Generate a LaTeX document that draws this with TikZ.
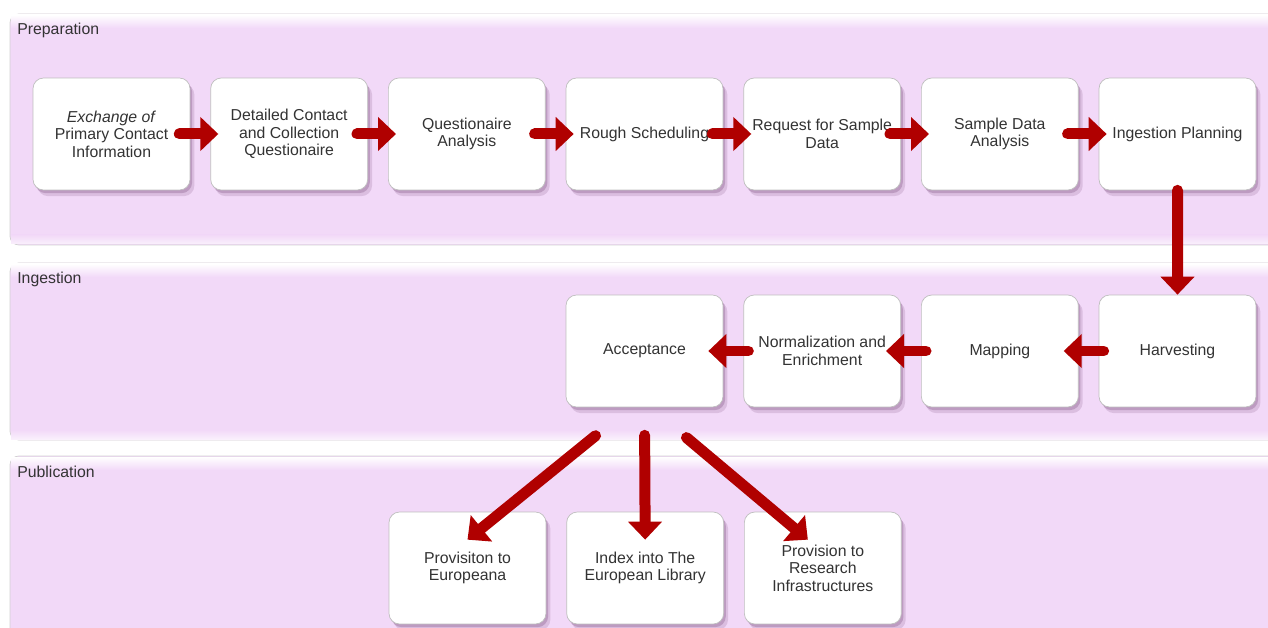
\documentclass[tikz,border=0pt]{standalone}
\usepackage{fontspec}
\setmainfont{Liberation Sans}
\usetikzlibrary{positioning,arrows.meta,shadows,calc}
\definecolor{lanecol}{HTML}{F2D9F8}
\definecolor{flowcol}{HTML}{B00000}
\definecolor{txtcol}{HTML}{333333}

\begin{document}
\begin{tikzpicture}[x=0.02cm,y=-0.02cm,
  lane/.style={draw=black!18, fill=lanecol, rounded corners=5pt},
  lanelabel/.style={anchor=base west, inner sep=0, font=\fontsize{9}{10}\selectfont, text=txtcol},
  stepbox/.style={draw=black!25, fill=white, rounded corners=6pt,
    minimum width=3.14cm, minimum height=2.24cm, align=center,
    font=\fontsize{9}{10}\selectfont, text=txtcol,
    drop shadow={shadow xshift=2.5pt, shadow yshift=-3.5pt, fill=violet!45!black, opacity=0.12},
    drop shadow={shadow xshift=1.2pt, shadow yshift=-1.8pt, fill=violet!45!black, opacity=0.18}},
  flow/.style={draw=flowcol, line width=0.22cm, line cap=round,
    -{Triangle[width=0.66cm,length=0.36cm]}},
  node distance=0.4cm]
  \useasboundingbox (0,0) rectangle (1268,628);
  % the three lanes
  \foreach \top/\bot/\name in {14/245/Preparation, 263/440/Ingestion, 456/640/Publication} {
    \draw[lane] (10,\top) rectangle (1290,\bot);
    \shade[top color=white, bottom color=lanecol] (11,\top+1) rectangle (1268,\top+14); %light top edge
    \shade[top color=lanecol, bottom color=white!60!lanecol] (11,\bot-10) rectangle (1268,\bot-1);
    \node[lanelabel] at (17,\top+21) {\name};
  }
  % preparation
  \node[stepbox] (xch) at (111.5,134) {\textit{Exchange of}\\Primary Contact\\Information};
  \node[stepbox, right=of xch] (dcq) {Detailed Contact\\and Collection\\Questionaire};
  \node[stepbox, right=of dcq] (qan) {Questionaire\\Analysis};
  \node[stepbox, right=of qan] (rsc) {Rough Scheduling};
  \node[stepbox, right=of rsc] (rsd) {Request for Sample\\Data};
  \node[stepbox, right=of rsd] (sda) {Sample Data\\Analysis};
  \node[stepbox, right=of sda] (ipl) {Ingestion Planning};
  % ingestion
  \node[stepbox] (hrv) at (1177.5,351) {Harvesting};
  \node[stepbox, left=of hrv] (map) {Mapping};
  \node[stepbox, left=of map] (nre) {Normalization and\\Enrichment};
  \node[stepbox, left=of nre] (acc) {Acceptance};
  % publication
  \node[stepbox] (eur) at (467.5,568) {Provisiton to\\Europeana};
  \node[stepbox, right=of eur] (tel) {Index into The\\European Library};
  \node[stepbox, right=of tel] (rin) {Provision to\\Research\\Infrastructures};
  % arrows
  \foreach \a/\b in {xch/dcq, dcq/qan, qan/rsc, rsc/rsd, rsd/sda, sda/ipl} {
    \draw[flow, shorten <=-0.22cm, shorten >=-0.16cm] (\a) -- (\b);
  }
  \draw[flow] (ipl) -- (hrv);
  \foreach \a/\b in {hrv/map, map/nre, nre/acc} {
    \draw[flow, shorten <=-0.1cm, shorten >=-0.3cm] (\a) -- (\b);
  }
  \draw[flow, shorten <=0.9cm] ($(acc.south)+(-14,0)$) -- ($(eur.north)+(0,28)$);
  \draw[flow, shorten <=0.56cm] (acc.south) -- ($(tel.north)+(0,28)$);
  \draw[flow, shorten <=0.94cm] ($(acc.south)+(6,0)$) -- ($(rin.north)+(-15,28)$);
\end{tikzpicture}
\end{document}
